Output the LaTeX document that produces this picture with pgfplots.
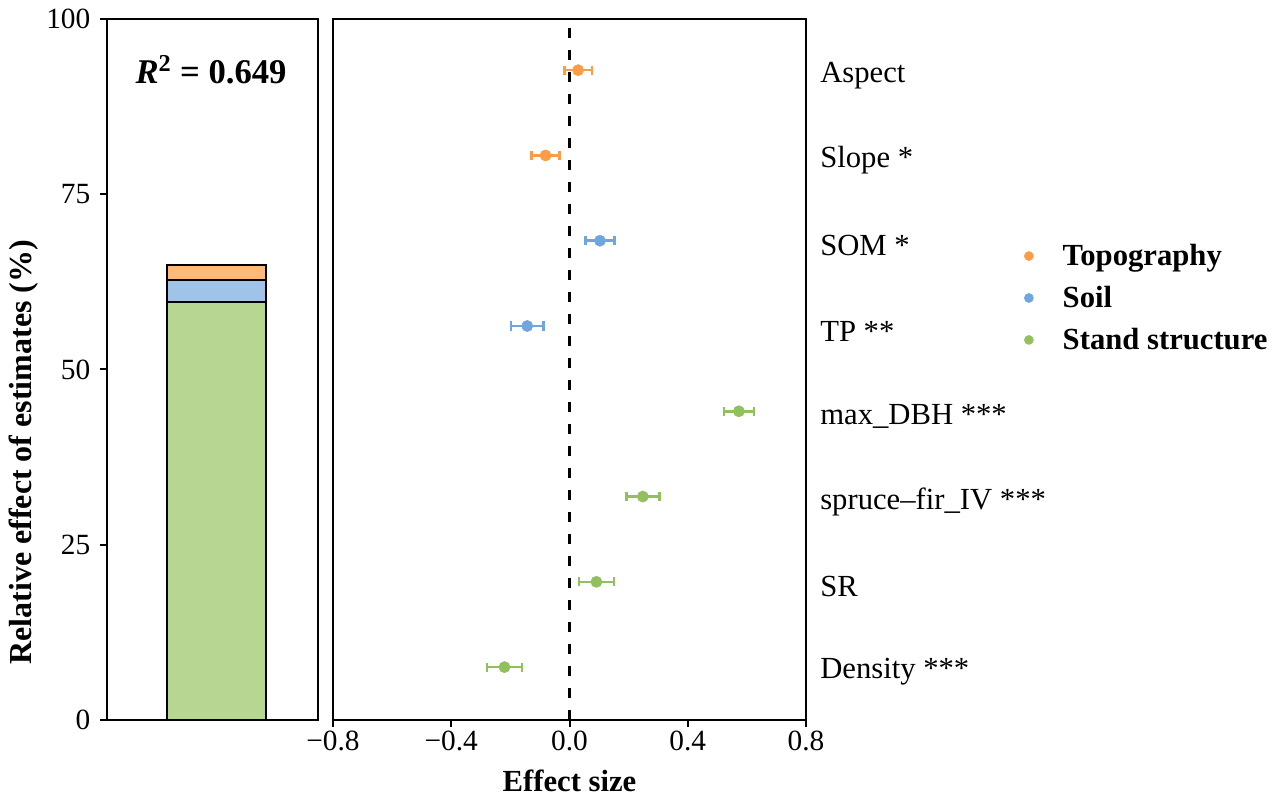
\documentclass[border=0pt]{standalone}
\usepackage{pgfplots}
\pgfplotsset{compat=1.18}
\usepackage{fontspec}
\setmainfont{Liberation Serif}
\definecolor{ptorange}{RGB}{252,157,69}
\definecolor{ptblue}{RGB}{111,166,224}
\definecolor{ptgreen}{RGB}{146,192,90}
\definecolor{barorange}{RGB}{255,185,120}
\definecolor{barblue}{RGB}{160,195,232}
\definecolor{bargreen}{RGB}{182,214,146}
\pgfplotsset{
  errstyle/.style={only marks, mark=*, mark size=4.2pt, color=#1,
    error bars/.cd, x dir=both, x explicit,
    error mark=|,
    error bar style={line width=2pt},
    error mark options={mark size=3.4pt, line width=2pt}}
}
\begin{document}
\begin{tikzpicture}[font=\fontsize{22}{26}\selectfont]
\useasboundingbox (0,0) rectangle (959.25pt,597pt);
\begin{axis}[
  at={(80.25pt,57pt)}, anchor=south west, scale only axis,
  width=158.25pt, height=525.75pt,
  xmin=0, xmax=1, ymin=0, ymax=100,
  ytick={0,25,50,75,100}, xtick=\empty,
  tick align=outside, ytick pos=left,
  axis line style={line width=1.5pt},
  major tick style={line width=1.5pt, black},
  major tick length=5pt,
  yticklabel style={xshift=-4pt},
  /pgf/number format/assume math mode=true,
  ylabel={\textbf{Relative effect of estimates (\%)}},
  ylabel style={at={(axis description cs:-0.393,0.382)}, anchor=center, font=\fontsize{24}{28}\selectfont},
  ybar stacked, bar width=74.25pt,
]
\addplot[fill=bargreen, draw=black, line width=1.5pt] coordinates {(0.519,59.6)};
\addplot[fill=barblue, draw=black, line width=1.5pt] coordinates {(0.519,3.2)};
\addplot[fill=barorange, draw=black, line width=1.5pt] coordinates {(0.519,2.1)};
\node[font=\fontsize{26}{30}\selectfont] at (axis cs:0.493,92.7) {\textbf{\textit{R}\textsuperscript{2} = 0.649}};
\end{axis}
\begin{axis}[
  at={(249.75pt,57pt)}, anchor=south west, scale only axis,
  width=354.75pt, height=525.75pt,
  xmin=-0.8, xmax=0.8, ymin=0.38, ymax=8.6,
  xtick={-0.8,-0.4,0,0.4,0.8},
  xticklabels={−0.8,−0.4,0.0,0.4,0.8},
  xtick pos=bottom, tick align=outside,
  ytick={1,2,3,4,5,6,7,8},
  yticklabels={Density ***, SR, spruce–fir\_IV ***, max\_DBH ***, TP **, SOM *, Slope *, Aspect},
  yticklabel pos=right,
  ytick style={draw=none},
  yticklabel style={anchor=west, inner sep=0pt, xshift=5.5pt, yshift=-3.75pt, font=\fontsize{23}{27}\selectfont},
  axis line style={line width=1.5pt},
  major tick style={line width=1.5pt, black},
  major tick length=5pt,
  xlabel={\textbf{Effect size}},
  xlabel style={at={(axis description cs:0.5,-0.087)}, anchor=center, font=\fontsize{23}{27}\selectfont},
  legend style={at={(axis description cs:1.461,0.602)}, anchor=west, draw=none, fill=none, inner sep=0pt, font=\fontsize{23}{27}\selectfont\bfseries, row sep=10pt, column sep=20pt},
  legend cell align=left,
]
\addlegendimage{only marks, mark=*, mark size=3.4pt, color=ptorange}
\addlegendentry{Topography}
\addlegendimage{only marks, mark=*, mark size=3.4pt, color=ptblue}
\addlegendentry{Soil}
\addlegendimage{only marks, mark=*, mark size=3.4pt, color=ptgreen}
\addlegendentry{Stand structure}
\addplot[forget plot, black, line width=2pt, dash pattern=on 7.5pt off 9pt] coordinates {(0,0.38) (0,8.6)};
\addplot[forget plot, errstyle=ptorange]
  coordinates {(0.029,8) +- (0.047,0) (-0.081,7) +- (0.048,0)};
\addplot[forget plot, errstyle=ptblue]
  coordinates {(0.103,6) +- (0.049,0) (-0.143,5) +- (0.055,0)};
\addplot[forget plot, errstyle=ptgreen]
  coordinates {(0.573,4) +- (0.051,0) (0.248,3) +- (0.056,0) (0.091,2) +- (0.059,0) (-0.220,1) +- (0.059,0)};
\end{axis}
\end{tikzpicture}
\end{document}
